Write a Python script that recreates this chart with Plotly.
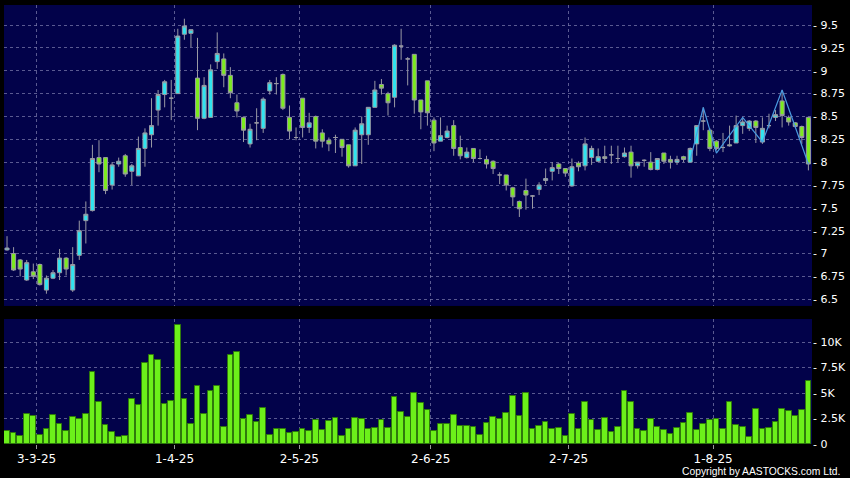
import plotly.graph_objects as go

# ---------------- data ----------------
opens = [7.04, 7.00, 6.93, 6.71, 6.80, 6.88, 6.60, 6.73, 6.79, 6.95,
         6.60, 6.98, 7.36, 7.47, 8.05, 8.05, 7.75, 7.98, 8.07, 7.90,
         7.85, 8.15, 8.30, 8.57, 8.74, 8.70, 8.75, 9.40, 9.41, 8.92,
         8.48, 8.49, 9.10, 9.13, 8.95, 8.65, 8.49, 8.20, 8.43, 8.37,
         8.78, 8.86, 8.96, 8.49, 8.27, 8.70, 8.38, 8.50, 8.32, 8.24,
         8.27, 8.25, 8.19, 7.96, 8.30, 8.30, 8.60, 8.85, 8.75, 8.71,
         9.27, 9.13, 9.18, 8.68, 8.89, 8.46, 8.23, 8.27, 8.40, 8.16,
         8.05, 8.15, 8.04, 8.03, 8.01, 7.86, 7.86, 7.72, 7.57, 7.69,
         7.63, 7.70, 7.80, 7.90, 7.98, 7.93, 7.74, 7.99, 7.96, 8.05,
         8.01, 8.06, 8.08, 8.04, 8.06, 8.11, 7.96, 8.02, 8.00, 7.92,
         8.10, 8.03, 8.00, 8.06, 8.00, 8.20, 8.45, 8.35, 8.23, 8.16,
         8.19, 8.21, 8.40, 8.37, 8.45, 8.22, 8.40, 8.49, 8.67, 8.49,
         8.43, 8.39, 8.49]
highs = [7.19, 7.07, 6.94, 6.93, 6.89, 6.89, 6.76, 6.82, 7.05, 6.96,
         7.07, 7.36, 7.57, 8.19, 8.24, 8.05, 8.00, 8.05, 8.09, 7.98,
         8.28, 8.37, 8.70, 8.79, 8.90, 8.90, 9.46, 9.57, 9.45, 9.36,
         8.93, 9.07, 9.42, 9.19, 9.04, 8.74, 8.50, 8.42, 8.59, 8.71,
         8.90, 8.93, 8.97, 8.62, 8.38, 8.70, 8.54, 8.51, 8.36, 8.27,
         8.30, 8.25, 8.19, 8.38, 8.50, 8.60, 8.89, 8.91, 8.77, 9.29,
         9.46, 9.15, 9.18, 8.68, 8.89, 8.49, 8.49, 8.40, 8.46, 8.29,
         8.16, 8.15, 8.14, 8.07, 8.02, 7.89, 7.86, 7.73, 7.58, 7.82,
         7.64, 7.78, 7.93, 8.00, 7.99, 7.93, 8.04, 8.01, 8.27, 8.18,
         8.15, 8.18, 8.18, 8.18, 8.16, 8.18, 8.00, 8.03, 8.11, 8.04,
         8.10, 8.07, 8.07, 8.07, 8.16, 8.40, 8.60, 8.37, 8.24, 8.32,
         8.40, 8.51, 8.48, 8.46, 8.46, 8.49, 8.53, 8.57, 8.79, 8.51,
         8.44, 8.40, 8.49]
lows = [7.03, 6.81, 6.75, 6.70, 6.72, 6.65, 6.56, 6.72, 6.71, 6.76,
        6.58, 6.93, 7.11, 7.46, 7.89, 7.65, 7.70, 7.95, 7.84, 7.75,
        7.85, 7.95, 8.16, 8.40, 8.60, 8.46, 8.75, 9.34, 9.26, 8.35,
        8.47, 8.49, 9.02, 8.82, 8.70, 8.49, 8.22, 8.16, 8.24, 8.32,
        8.74, 8.74, 8.57, 8.25, 8.24, 8.27, 8.32, 8.15, 8.16, 8.12,
        8.10, 8.06, 7.94, 7.96, 7.98, 8.19, 8.60, 8.74, 8.51, 8.60,
        9.12, 8.84, 8.53, 8.36, 8.40, 8.12, 8.23, 8.26, 8.07, 8.03,
        8.04, 8.00, 8.03, 7.93, 7.87, 7.76, 7.69, 7.52, 7.40, 7.48,
        7.49, 7.64, 7.76, 7.80, 7.87, 7.84, 7.73, 7.90, 7.91, 7.97,
        8.00, 7.99, 7.98, 8.00, 8.05, 7.83, 7.93, 7.95, 7.91, 7.91,
        7.98, 7.93, 7.97, 8.00, 8.00, 8.07, 8.35, 8.12, 8.13, 8.11,
        8.17, 8.21, 8.31, 8.34, 8.21, 8.20, 8.37, 8.45, 8.38, 8.40,
        8.38, 8.20, 7.91]
closes = [7.06, 6.82, 6.83, 6.90, 6.75, 6.66, 6.73, 6.79, 6.95, 6.83,
          6.88, 7.25, 7.43, 8.04, 7.98, 7.69, 7.97, 8.01, 7.87, 7.96,
          8.15, 8.32, 8.40, 8.74, 8.88, 8.70, 9.38, 9.49, 9.45, 8.48,
          8.84, 9.01, 9.19, 8.95, 8.76, 8.56, 8.35, 8.36, 8.43, 8.69,
          8.87, 8.86, 8.59, 8.34, 8.27, 8.38, 8.43, 8.23, 8.23, 8.20,
          8.27, 8.16, 7.96, 8.35, 8.42, 8.60, 8.79, 8.81, 8.65, 9.28,
          9.27, 9.13, 8.68, 8.55, 8.54, 8.21, 8.29, 8.34, 8.15, 8.07,
          8.11, 8.04, 8.04, 7.98, 7.93, 7.86, 7.75, 7.62, 7.49, 7.64,
          7.63, 7.75, 7.82, 7.94, 7.93, 7.88, 7.95, 7.95, 8.20, 8.15,
          8.06, 8.04, 8.08, 8.04, 8.10, 7.96, 8.00, 8.02, 7.92, 8.04,
          8.01, 8.00, 8.03, 8.03, 8.15, 8.40, 8.45, 8.15, 8.15, 8.16,
          8.18, 8.40, 8.44, 8.45, 8.38, 8.37, 8.40, 8.52, 8.51, 8.44,
          8.39, 8.27, 7.98]
volumes_k = [1.31, 1.08, 0.79, 2.92, 2.72, 0.92, 1.51, 2.85, 1.93, 1.25,
             2.69, 2.46, 2.98, 7.02, 4.07, 1.87, 1.18, 0.69, 0.82, 4.43,
             3.80, 7.93, 8.69, 8.20, 3.93, 4.20, 11.67, 4.43, 1.97, 5.67,
             2.95, 5.18, 5.67, 1.70, 8.69, 8.98, 2.49, 2.89, 2.13, 3.54,
             0.92, 1.44, 1.48, 1.08, 1.21, 1.51, 1.31, 2.33, 1.41, 2.23,
             2.56, 0.79, 1.48, 2.52, 2.46, 1.44, 1.61, 2.36, 1.61, 4.59,
             3.11, 2.62, 5.02, 4.00, 3.38, 1.28, 2.00, 2.00, 2.89, 1.74,
             1.77, 1.70, 0.92, 2.10, 2.66, 2.43, 3.08, 4.69, 2.79, 4.98,
             1.48, 1.74, 2.16, 1.44, 1.54, 0.75, 2.95, 1.48, 4.07, 2.33,
             1.34, 2.59, 1.18, 1.67, 5.18, 4.07, 1.44, 1.28, 2.49, 1.67,
             1.41, 1.02, 1.57, 2.03, 3.08, 1.34, 2.00, 2.33, 2.49, 1.51,
             4.16, 1.84, 1.64, 0.66, 3.41, 1.44, 1.57, 2.16, 3.41, 3.28,
             2.79, 3.31, 6.20]

# zig-zag overlay line (session index, price)
zig_idx = [104, 106, 108, 112, 115, 118, 122]
zig_price = [8.02, 8.60, 8.10, 8.49, 8.22, 8.79, 7.98]

# date ticks: session index of the labelled day and its label
date_tick_idx = [4, 25, 44, 64, 85, 107]
date_tick_labels = ["3-3-25", "1-4-25", "2-5-25", "2-6-25", "2-7-25", "1-8-25"]

price_ticks = [6.5, 6.75, 7, 7.25, 7.5, 7.75, 8, 8.25, 8.5, 8.75, 9, 9.25, 9.5]
price_tick_labels = ["6.5", "6.75", "7", "7.25", "7.5", "7.75", "8", "8.25",
                     "8.5", "8.75", "9", "9.25", "9.5"]
vol_ticks = [0, 2.5, 5, 7.5, 10]
vol_tick_labels = ["0", "2.5K", "5K", "7.5K", "10K"]

# ---------------- styling ----------------
NAVY = "#02024a"
GRID = "rgba(120,120,170,0.75)"
CYAN = "#30e4f0"
GREEN = "#7ceb1e"
WICK = "#9a9aa4"
FONT = "DejaVu Sans"

n = len(closes)
x = list(range(n))
grid_pos = [i + 0.5 for i in date_tick_idx]
xr = [-0.46, n - 1 + 0.55]

fig = go.Figure()
fig.add_trace(go.Candlestick(
    x=x, open=opens, high=highs, low=lows, close=closes,
    increasing=dict(fillcolor=CYAN, line=dict(color=WICK, width=1)),
    decreasing=dict(fillcolor=GREEN, line=dict(color=WICK, width=1)),
    whiskerwidth=0, xaxis="x", yaxis="y", showlegend=False, hoverinfo="skip",
))
fig.add_trace(go.Scatter(
    x=zig_idx, y=zig_price, mode="lines",
    line=dict(color="#4a9be0", width=1.2),
    xaxis="x", yaxis="y", showlegend=False, hoverinfo="skip",
))
fig.add_trace(go.Bar(
    x=x, y=volumes_k, marker=dict(color="#6cf01a", line=dict(color="#2f7a0c", width=1)),
    width=0.86, xaxis="x2", yaxis="y2", showlegend=False, hoverinfo="skip",
))

axis_common = dict(showgrid=True, gridcolor=GRID, griddash="3px,3px", gridwidth=1,
                   zeroline=False, showline=False)

fig.update_layout(
    width=850, height=478,
    margin=dict(l=4, r=36, t=5, b=34),
    paper_bgcolor="#000000", plot_bgcolor=NAVY,
    font=dict(family=FONT, color="#ffffff", size=11),
    bargap=0, boxgap=0.12,
    xaxis=dict(domain=[0, 1], anchor="y", range=xr, tickvals=grid_pos,
               showticklabels=False, ticks="", rangeslider=dict(visible=False),
               **axis_common),
    yaxis=dict(domain=[0.3144, 1], anchor="x", side="right", range=[6.426, 9.72],
               tickvals=price_ticks, ticktext=["- " + t for t in price_tick_labels],
               ticks="", tickfont=dict(family=FONT, size=11, color="#ffffff"),
               **axis_common),
    xaxis2=dict(domain=[0, 1], anchor="y2", range=xr, tickvals=grid_pos,
                ticktext=date_tick_labels, ticks="outside", ticklen=4,
                tickcolor="#9a9a9a", tickfont=dict(family=FONT, size=12, color="#ffffff"),
                **axis_common),
    yaxis2=dict(domain=[0, 0.2847], anchor="x2", side="right", range=[0, 12.26],
                tickvals=vol_ticks, ticktext=["- " + t for t in vol_tick_labels],
                ticks="", tickfont=dict(family=FONT, size=11, color="#ffffff"),
                **axis_common),
    annotations=[dict(
        text="Copyright by AASTOCKS.com Ltd.", xref="paper", yref="paper",
        x=1.037, y=-0.063, xanchor="right", yanchor="middle", showarrow=False,
        font=dict(family="Liberation Sans", size=10.3, color="#ffffff"),
    )],
)

fig.write_html(
    "out.html",
    config={"displayModeBar": False},
    post_script="document.body.style.margin='0';document.body.style.background='#000';",
)
